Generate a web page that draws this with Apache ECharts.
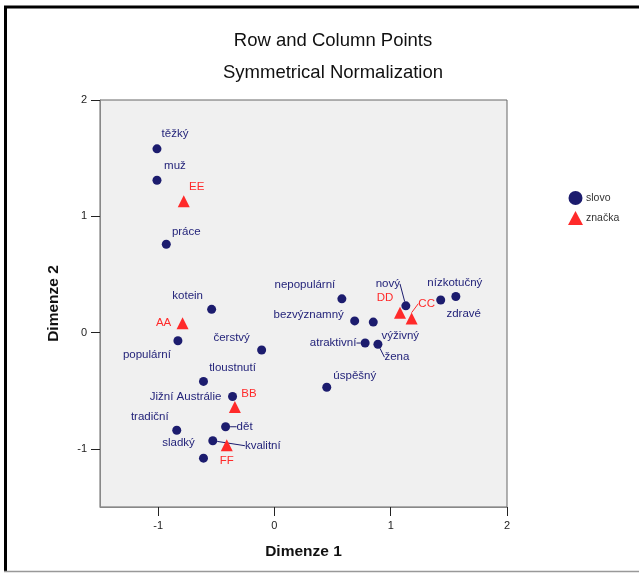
<!DOCTYPE html>
<html>
<head>
<meta charset="utf-8">
<script src="https://cdn.jsdelivr.net/npm/echarts@6/dist/echarts.min.js"></script>
<style>
html,body{margin:0;padding:0;background:#fff;}
#c{width:639px;height:574px;}
</style>
</head>
<body>
<div id="c"></div>
<script>
// ---- data ----
var rowNames = ['těžký','muž','práce','kotein','populární','čerstvý','tloustnutí','Jižní Austrálie','tradiční','dět','kvalitní','sladký','nepopulární','bezvýznamný','výživný','atraktivní','žena','nový','zdravé','nízkotučný','úspěšný'];
var rowX = [-1.01,-1.01,-0.93,-0.54,-0.83,-0.11,-0.61,-0.36,-0.84,-0.42,-0.53,-0.61,0.58,0.69,0.85,0.78,0.89,1.13,1.43,1.56,0.45];
var rowY = [1.58,1.31,0.76,0.20,-0.07,-0.15,-0.42,-0.55,-0.84,-0.81,-0.93,-1.08,0.29,0.10,0.09,-0.09,-0.10,0.23,0.28,0.31,-0.47];
var colNames = ['AA','BB','CC','DD','EE','FF'];
var colX = [-0.79,-0.34,1.18,1.08,-0.78,-0.41];
var colY = [0.08,-0.64,0.12,0.17,1.13,-0.97];
var tickValues = [-1,0,1,2];

// ---- label placement (styling, separate from data) ----
var rowLabelShift = {
  'těžký':[18,-15],'muž':[18,-14],'práce':[20,-12],'kotein':[-24,-13],'populární':[-31,14],
  'čerstvý':[-30,-12],'tloustnutí':[29,-14],'Jižní Austrálie':[-47,0],'tradiční':[-27,-13],
  'dět':[19,0],'kvalitní':[50,5],'sladký':[-25,-15],'nepopulární':[-37,-14],'bezvýznamný':[-46,-6],
  'výživný':[27,14],'atraktivní':[-32,0],'žena':[19,13],'nový':[-18,-22],'zdravé':[23,14],
  'nízkotučný':[-1,-14],'úspěšný':[28,-11]
};
var rowLeader = {'dět':1,'kvalitní':1,'atraktivní':1,'žena':1,'nový':1};
var colLabelShift = {'AA':[-19,0],'BB':[14,-13],'CC':[15,-15],'DD':[-15,-15],'EE':[13,-14],'FF':[0,15]};
var colLeader = {'CC':1};

var rowData = rowNames.map(function(n,i){
  var d = {name:n, value:[rowX[i], rowY[i]]};
  if (rowLeader[n]) d.labelLine = {show:true};
  return d;
});
var colData = colNames.map(function(n,i){
  var d = {name:n, value:[colX[i], colY[i]]};
  if (colLeader[n]) d.labelLine = {show:true};
  return d;
});

var chart = echarts.init(document.getElementById('c'), null, {renderer:'canvas'});
var FONT = 'Liberation Sans, Arial, sans-serif';
var NAVY = '#1c1c6e';
var RED = '#ff2a2a';

function layoutFor(names, shifts){
  return function(p){
    var s = shifts[names[p.dataIndex]] || [0,0];
    return {dx:s[0], dy:s[1]};
  };
}

chart.setOption({
  animation:false,
  backgroundColor:'#fff',
  graphic:[
    {type:'line', shape:{x1:4,y1:7,x2:639,y2:7}, style:{stroke:'#000',lineWidth:3}, z:100},
    {type:'line', shape:{x1:5.5,y1:6,x2:5.5,y2:572}, style:{stroke:'#000',lineWidth:3}, z:100},
    {type:'line', shape:{x1:4,y1:571.5,x2:639,y2:571.5}, style:{stroke:'#999',lineWidth:1.5}, z:100},
    {type:'text', x:333, y:31, style:{text:'Row and Column Points', textAlign:'center', font:'18.5px '+FONT, fill:'#111'}},
    {type:'text', x:333, y:63, style:{text:'Symmetrical Normalization', textAlign:'center', font:'18.5px '+FONT, fill:'#111'}}
  ],
  legend:{
    orient:'vertical', left:563, top:186, itemWidth:15, itemHeight:14, itemGap:6,
    textStyle:{fontFamily:FONT, fontSize:10.5, color:'#333', padding:[0,0,0,-2]},
    data:[{name:'slovo', icon:'circle'},{name:'značka', icon:'triangle'}]
  },
  grid:{left:100, right:132, top:100, bottom:67, show:true, backgroundColor:'#f0f0f0', borderColor:'#666', borderWidth:1},
  xAxis:{
    type:'value', min:-1.5, max:2, interval:0.5,
    name:'Dimenze 1', nameLocation:'middle', nameGap:37,
    nameTextStyle:{fontFamily:FONT, fontSize:15.5, fontWeight:'bold', color:'#111'},
    axisLine:{show:true, onZero:false, lineStyle:{color:'#888'}},
    axisTick:{show:true, length:9, lineStyle:{color:'#222'}, customValues:tickValues},
    axisLabel:{fontFamily:FONT, fontSize:11, color:'#222', margin:13, customValues:tickValues},
    splitLine:{show:false}
  },
  yAxis:{
    type:'value', min:-1.5, max:2, interval:0.5,
    name:'Dimenze 2', nameLocation:'middle', nameGap:38, nameRotate:90,
    nameTextStyle:{fontFamily:FONT, fontSize:15.5, fontWeight:'bold', color:'#111'},
    axisLine:{show:true, onZero:false, lineStyle:{color:'#888'}},
    axisTick:{show:true, length:9, lineStyle:{color:'#222'}, customValues:tickValues},
    axisLabel:{fontFamily:FONT, fontSize:11, color:'#222', margin:13, customValues:tickValues},
    splitLine:{show:false}
  },
  series:[
    {
      name:'slovo', type:'scatter', symbol:'circle', symbolSize:9,
      itemStyle:{color:NAVY, opacity:1},
      data:rowData,
      label:{show:true, position:'inside', formatter:'{b}', fontFamily:FONT, fontSize:11.5, color:'#24247a'},
      labelLine:{show:false, lineStyle:{color:NAVY, width:1}},
      labelLayout:layoutFor(rowNames, rowLabelShift)
    },
    {
      name:'značka', type:'scatter', symbol:'triangle', symbolSize:12,
      itemStyle:{color:RED, opacity:1},
      data:colData,
      label:{show:true, position:'inside', formatter:'{b}', fontFamily:FONT, fontSize:11.5, color:RED},
      labelLine:{show:false, lineStyle:{color:RED, width:1}},
      labelLayout:layoutFor(colNames, colLabelShift)
    }
  ]
});
</script>
</body>
</html>
